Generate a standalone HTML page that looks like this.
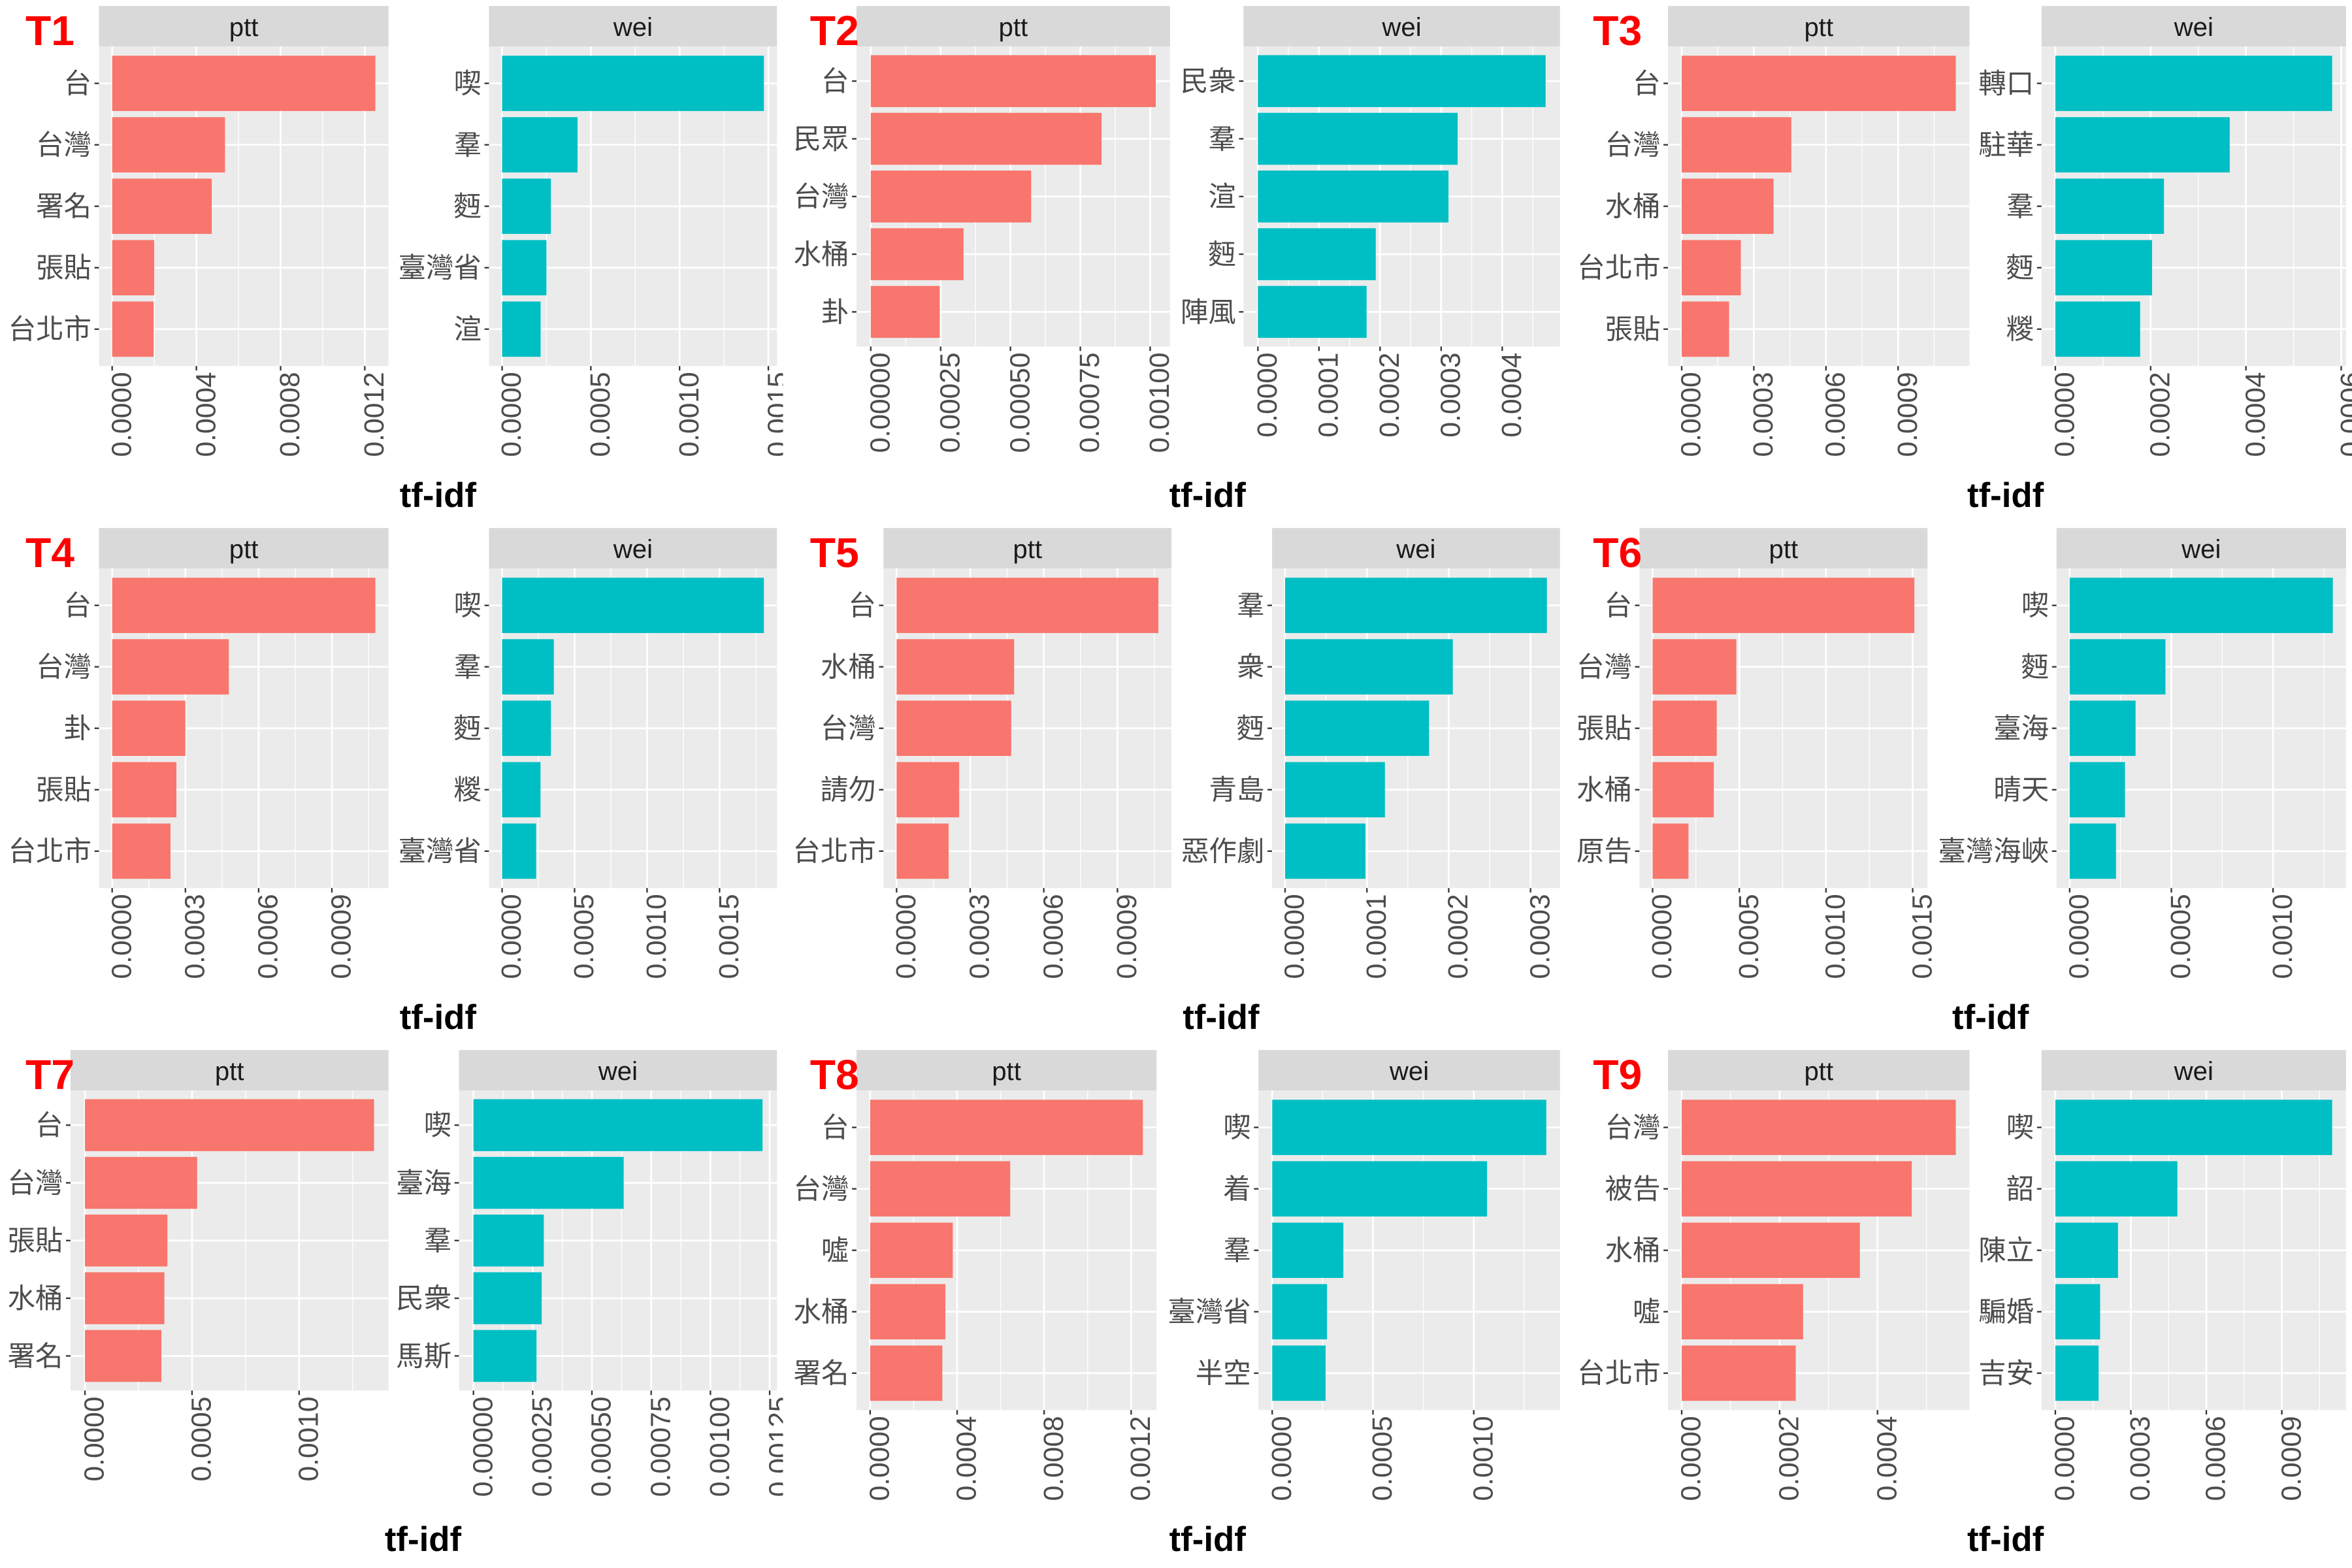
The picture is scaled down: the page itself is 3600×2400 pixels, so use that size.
<!DOCTYPE html>
<html><head><meta charset="utf-8">
<style>
html,body{margin:0;padding:0;background:#fff;}
svg{display:block;}
text{font-family:"Liberation Sans","Noto Sans CJK TC",sans-serif;}
</style></head>
<body>
<svg id="chart" width="3600" height="2400" viewBox="0 0 1568 1045.3" preserveAspectRatio="none" xmlns="http://www.w3.org/2000/svg"></svg>
<script>
const topics = ["T1","T2","T3","T4","T5","T6","T7","T8","T9"];
const pttTerms = [
  ["台","台灣","署名","張貼","台北市"],
  ["台","民眾","台灣","水桶","卦"],
  ["台","台灣","水桶","台北市","張貼"],
  ["台","台灣","卦","張貼","台北市"],
  ["台","水桶","台灣","請勿","台北市"],
  ["台","台灣","張貼","水桶","原告"],
  ["台","台灣","張貼","水桶","署名"],
  ["台","台灣","噓","水桶","署名"],
  ["台灣","被告","水桶","噓","台北市"]
];
const pttValues = [
  [0.00125,0.000536,0.000473,0.0002,0.000197],
  [0.00102,0.000826,0.000574,0.000332,0.000247],
  [0.00114,0.000456,0.000382,0.000246,0.000197],
  [0.001078,0.000478,0.0003,0.000263,0.000239],
  [0.001067,0.000479,0.000467,0.000255,0.000212],
  [0.00151,0.000483,0.00037,0.000353,0.000207],
  [0.00135,0.000524,0.000385,0.000371,0.000357],
  [0.001254,0.000644,0.00038,0.000346,0.000332],
  [0.00056,0.00047,0.000364,0.000248,0.000233]
];
const weiTerms = [
  ["喫","羣","麪","臺灣省","渲"],
  ["民衆","羣","渲","麪","陣風"],
  ["轉口","駐華","羣","麪","糉"],
  ["喫","羣","麪","糉","臺灣省"],
  ["羣","衆","麪","青島","惡作劇"],
  ["喫","麪","臺海","晴天","臺灣海峽"],
  ["喫","臺海","羣","民衆","馬斯"],
  ["喫","着","羣","臺灣省","半空"],
  ["喫","韶","陳立","騙婚","吉安"]
];
const weiValues = [
  [0.001475,0.000425,0.000275,0.00025,0.000217],
  [0.000471,0.000327,0.000312,0.000193,0.000178],
  [0.000581,0.000366,0.000228,0.000203,0.000178],
  [0.001806,0.000357,0.000337,0.000265,0.000235],
  [0.00032,0.000205,0.000176,0.000122,0.0000982],
  [0.001294,0.000471,0.000324,0.000272,0.000228],
  [0.00122,0.000634,0.000297,0.000288,0.000266],
  [0.00136,0.001066,0.000353,0.000272,0.000265],
  [0.0011,0.000485,0.000249,0.000178,0.000172]
];
const pttTickLabels = [
  ["0.0000","0.0004","0.0008","0.0012"],
  ["0.00000","0.00025","0.00050","0.00075","0.00100"],
  ["0.0000","0.0003","0.0006","0.0009"],
  ["0.0000","0.0003","0.0006","0.0009"],
  ["0.0000","0.0003","0.0006","0.0009"],
  ["0.0000","0.0005","0.0010","0.0015"],
  ["0.0000","0.0005","0.0010"],
  ["0.0000","0.0004","0.0008","0.0012"],
  ["0.0000","0.0002","0.0004"]
];
const weiTickLabels = [
  ["0.0000","0.0005","0.0010","0.0015"],
  ["0.0000","0.0001","0.0002","0.0003","0.0004"],
  ["0.0000","0.0002","0.0004","0.0006"],
  ["0.0000","0.0005","0.0010","0.0015"],
  ["0.0000","0.0001","0.0002","0.0003"],
  ["0.0000","0.0005","0.0010"],
  ["0.00000","0.00025","0.00050","0.00075","0.00100","0.00125"],
  ["0.0000","0.0005","0.0010"],
  ["0.0000","0.0003","0.0006","0.0009"]
];

// layout (pixel geometry, not data)
const layout = [
  {ptt:[66,259],wei:[326,518],h:213,lx:17,cx:292,top:4,clip:[0,522]},
  {ptt:[571,780],wei:[829,1040],h:200,lx:540,cx:805,top:4,clip:[522,1045]},
  {ptt:[1112,1313],wei:[1361,1564],h:213,lx:1062,cx:1337,top:4,clip:[1045,1568]},
  {ptt:[66,259],wei:[326,518],h:213,lx:17,cx:292,top:352,clip:[0,522]},
  {ptt:[589,781],wei:[848,1040],h:213,lx:540,cx:814,top:352,clip:[522,1045]},
  {ptt:[1093,1285],wei:[1371,1564],h:213,lx:1062,cx:1327,top:352,clip:[1045,1568]},
  {ptt:[47,259],wei:[306,518],h:200,lx:17,cx:282,top:700,clip:[0,522]},
  {ptt:[571,771],wei:[839,1040],h:213,lx:540,cx:805,top:700,clip:[522,1045]},
  {ptt:[1112,1313],wei:[1361,1564],h:213,lx:1062,cx:1337,top:700,clip:[1045,1568]}
];

const NS = "http://www.w3.org/2000/svg";
const svg = document.getElementById("chart");
function mk(tag, attrs, parent) {
  const e = document.createElementNS(NS, tag);
  for (const k in attrs) e.setAttribute(k, attrs[k]);
  parent.appendChild(e);
  return e;
}
const defs = mk("defs", {}, svg);

function drawFacet(g, name, terms, values, tickLabels, xr, top, h, color) {
  const stripH = 27;
  const left = xr[0], right = xr[1], w = right - left;
  const pTop = top + stripH, pBot = pTop + h;
  const m = Math.max(...values);
  const xScale = v => left + (v + 0.05 * m) / (1.1 * m) * w;
  const unit = h / 5.2;
  const yScale = i => pTop + (0.6 + i) * unit;

  const strip = mk("rect", {x:left, y:top, width:w, height:stripH, fill:"#D9D9D9"}, g);
  
  
  const st = mk("text", {x:(left+right)/2, y:top+20, "text-anchor":"middle", "font-size":17.5, fill:"#1A1A1A"}, g);
  st.textContent = name;
  
  

  const bg = mk("rect", {x:left, y:pTop, width:w, height:h, fill:"#EBEBEB"}, g);
  
  

  const tickVals = tickLabels.map(s => parseFloat(s));
  const step = tickVals.length > 1 ? tickVals[1] - tickVals[0] : m;
  const lo = -0.05 * m, hi = 1.05 * m;
  for (let k = -1; k < 40; k++) {
    const v = (k + 0.5) * step;
    if (v < lo || v > hi) continue;
    const x = xScale(v);
    const gl = mk("line", {x1:x, x2:x, y1:pTop, y2:pBot, stroke:"#fff", "stroke-width":0.6}, g);
    
    
  }
  tickVals.forEach(v => {
    if (v > hi) return;
    const x = xScale(v);
    const gl = mk("line", {x1:x, x2:x, y1:pTop, y2:pBot, stroke:"#fff", "stroke-width":1.2}, g);
    
    
  });
  terms.forEach((t, i) => {
    const y = yScale(i);
    const gl = mk("line", {x1:left, x2:right, y1:y, y2:y, stroke:"#fff", "stroke-width":1.2}, g);
    
    
  });
  terms.forEach((t, i) => {
    const y = yScale(i);
    const x0 = xScale(0), x1 = xScale(values[i]);
    const b = mk("rect", {x:x0, y:y - 0.45*unit, width:Math.max(0, x1 - x0), height:0.9*unit, fill:color}, g);
    
    
    const tk = mk("line", {x1:left-3, x2:left, y1:y, y2:y, stroke:"#333", "stroke-width":1}, g);
    
    
    const lb = mk("text", {x:left-5, y:y+6.5, "text-anchor":"end", "font-size":18.5, fill:"#4D4D4D"}, g);
    lb.textContent = t;
    
    
  });
  tickLabels.forEach((s, j) => {
    if (tickVals[j] > hi) return;
    const x = xScale(tickVals[j]);
    const tk = mk("line", {x1:x, x2:x, y1:pBot, y2:pBot+3, stroke:"#333", "stroke-width":1}, g);
    
    
    const lb = mk("text", {transform:`translate(${x+12.5},${pBot+4}) rotate(-90)`, "text-anchor":"end", "font-size":18.5, fill:"#4D4D4D"}, g);
    lb.textContent = s;
    
    
  });
}

topics.forEach((tp, p) => {
  const L = layout[p];
  const cp = mk("clipPath", {id:"clip" + p}, defs);
  mk("rect", {x:L.clip[0], y:L.top - 4, width:L.clip[1] - L.clip[0], height:348}, cp);
  const g = mk("g", {"clip-path":`url(#clip${p})`}, svg);
  
  
  drawFacet(g, "ptt", pttTerms[p], pttValues[p], pttTickLabels[p], L.ptt, L.top, L.h, "#F8766D");
  drawFacet(g, "wei", weiTerms[p], weiValues[p], weiTickLabels[p], L.wei, L.top, L.h, "#00BFC4");
  const t = mk("text", {x:L.lx, y:L.top + 26, "font-size":28, "font-weight":"bold", fill:"#FF0000"}, g);
  t.textContent = tp;
  
  
  const xt = mk("text", {x:L.cx, y:L.top + 334, "text-anchor":"middle", "font-size":23, "font-weight":"bold", fill:"#000"}, g);
  xt.textContent = "tf-idf";
  
  
});
</script>
</body></html>
